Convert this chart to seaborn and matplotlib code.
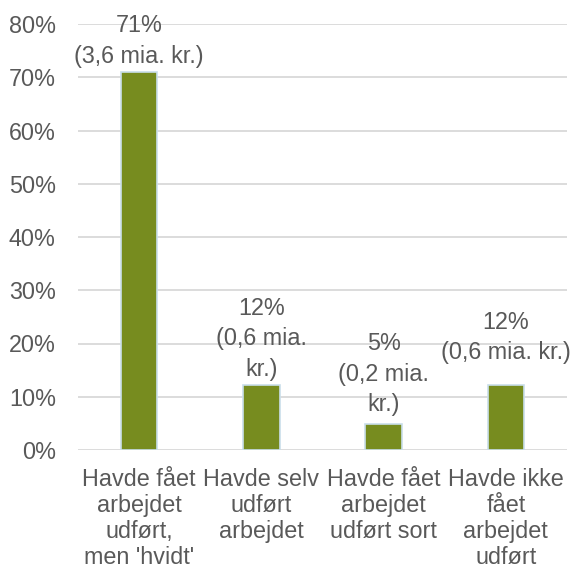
import matplotlib
matplotlib.use("Agg")
import matplotlib.pyplot as plt
import seaborn as sns
import pandas as pd

# data
categories = ["Havde fået\narbejdet\nudført,\nmen 'hvidt'",
              "Havde selv\nudført\narbejdet",
              "Havde fået\narbejdet\nudført sort",
              "Havde ikke\nfået\narbejdet\nudført"]
shares = [71, 12.2, 4.8, 12.2]
bar_labels = ["71%\n(3,6 mia. kr.)",
              "12%\n(0,6 mia.\nkr.)",
              "5%\n(0,2 mia.\nkr.)",
              "12%\n(0,6 mia. kr.)"]
yticks = [0, 10, 20, 30, 40, 50, 60, 70, 80]

df = pd.DataFrame({"cat": categories, "share": shares})

sns.set_style("white")
plt.rcParams["font.family"] = ["Liberation Sans", "DejaVu Sans"]
txt_color = "#595959"
fs = 16.8
# afstand fra søjletop til etiket (punkter)
label_pad = [3, 3, 6, 15]

fig = plt.figure(figsize=(5.74, 5.70), dpi=100)
ax = fig.add_axes([78 / 574, 120 / 570, 489 / 574, 426 / 570])

sns.barplot(data=df, x="cat", y="share", color="#778C1F", width=0.30,
            edgecolor="#C9DEEA", linewidth=1.2, saturation=1, ax=ax, zorder=3)

ax.set_ylim(0, 80)
ax.set_xlim(-0.5, 3.5)
ax.set_yticks(yticks)
ax.set_yticklabels([f"{t}%" for t in yticks])
ax.grid(axis="y", color="#D9D9D9", linewidth=1.3, zorder=0)
ax.grid(axis="x", visible=False)
for s in ax.spines.values():
    s.set_visible(False)
ax.tick_params(axis="both", length=0, labelsize=fs, labelcolor=txt_color)
ax.tick_params(axis="y", pad=16)
ax.tick_params(axis="x", pad=13)
for lbl in ax.get_xticklabels():
    lbl.set_linespacing(1.17)
ax.set_xlabel("")
ax.set_ylabel("")

for i, (v, lab) in enumerate(zip(shares, bar_labels)):
    ax.annotate(lab, (i, v), xytext=(0, label_pad[i]), textcoords="offset points",
                ha="center", va="bottom", fontsize=fs, color=txt_color,
                linespacing=1.42, zorder=4)

fig.savefig("out.png", dpi=100)
